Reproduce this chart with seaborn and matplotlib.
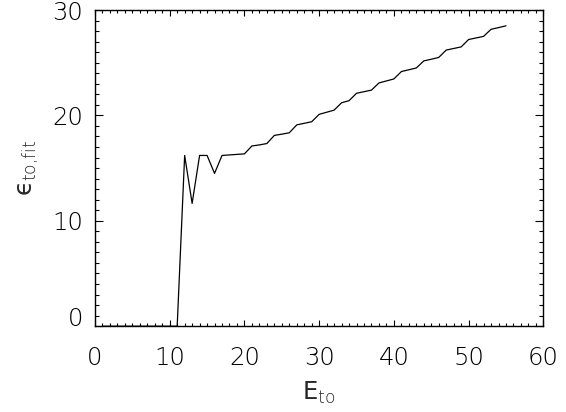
import numpy as np
import pandas as pd
import matplotlib
matplotlib.use('Agg')
import matplotlib.pyplot as plt
import seaborn as sns
from matplotlib.ticker import MultipleLocator

# values
e_to = list(range(1, 56))
eps_fit = [0, 0, 0, 0, 0, 0, 0, 0, 0, 0, 0,
           16.2, 11.65, 16.2, 16.2, 14.5, 16.2, 16.25, 16.3, 16.35,
           17.1, 17.2, 17.33, 18.1, 18.22, 18.35, 19.1, 19.25, 19.4,
           20.1, 20.3, 20.5, 21.2, 21.4, 22.1, 22.25, 22.4, 23.08,
           23.27, 23.46, 24.16, 24.33, 24.5, 25.17, 25.33, 25.5,
           26.2, 26.35, 26.5, 27.2, 27.35, 27.5, 28.17, 28.33, 28.5]

x_ticks = [0, 10, 20, 30, 40, 50, 60]
y_ticks = [0, 10, 20, 30]

df = pd.DataFrame({'E_to': e_to, 'eps': eps_fit})

sns.set_style('ticks')
plt.rcParams['font.family'] = ['DejaVu Sans']
plt.rcParams['font.weight'] = 'light'
plt.rcParams['mathtext.fontset'] = 'dejavusans'

fig = plt.figure(figsize=(5.66, 4.12), dpi=100)
ax = fig.add_axes([0.1678, 0.2083, 0.7922, 0.7674])

sns.lineplot(data=df, x='E_to', y='eps', ax=ax, color='black', linewidth=0.9)

ax.set_xlim(0, 60)
ax.set_ylim(0, 30)
ax.set_xticks(x_ticks)
ax.set_yticks(y_ticks)
ax.xaxis.set_minor_locator(MultipleLocator(1))
ax.yaxis.set_minor_locator(MultipleLocator(1))

for s in ax.spines.values():
    s.set_linewidth(1.0)
    s.set_color('black')

ax.tick_params(axis='both', which='both', direction='in', top=True, right=True,
               colors='black', width=0.8, labelsize=17.5)
ax.tick_params(axis='x', which='major', length=4.2, pad=14)
ax.tick_params(axis='x', which='minor', length=2.1)
ax.tick_params(axis='y', which='major', length=5.8, pad=8.5)
ax.tick_params(axis='y', which='minor', length=2.9)

for lab in ax.get_xticklabels() + ax.get_yticklabels():
    lab.set_fontweight('light')
ax.get_yticklabels()[0].set_va('baseline')

ax.set_xlabel(r'E$_{\rm to}$', fontsize=17.5, labelpad=7)
ax.set_ylabel('\u03f5' + r'$_{\rm to{,}fit}$', fontsize=17.5, labelpad=8)

fig.savefig('out.png', dpi=100)
